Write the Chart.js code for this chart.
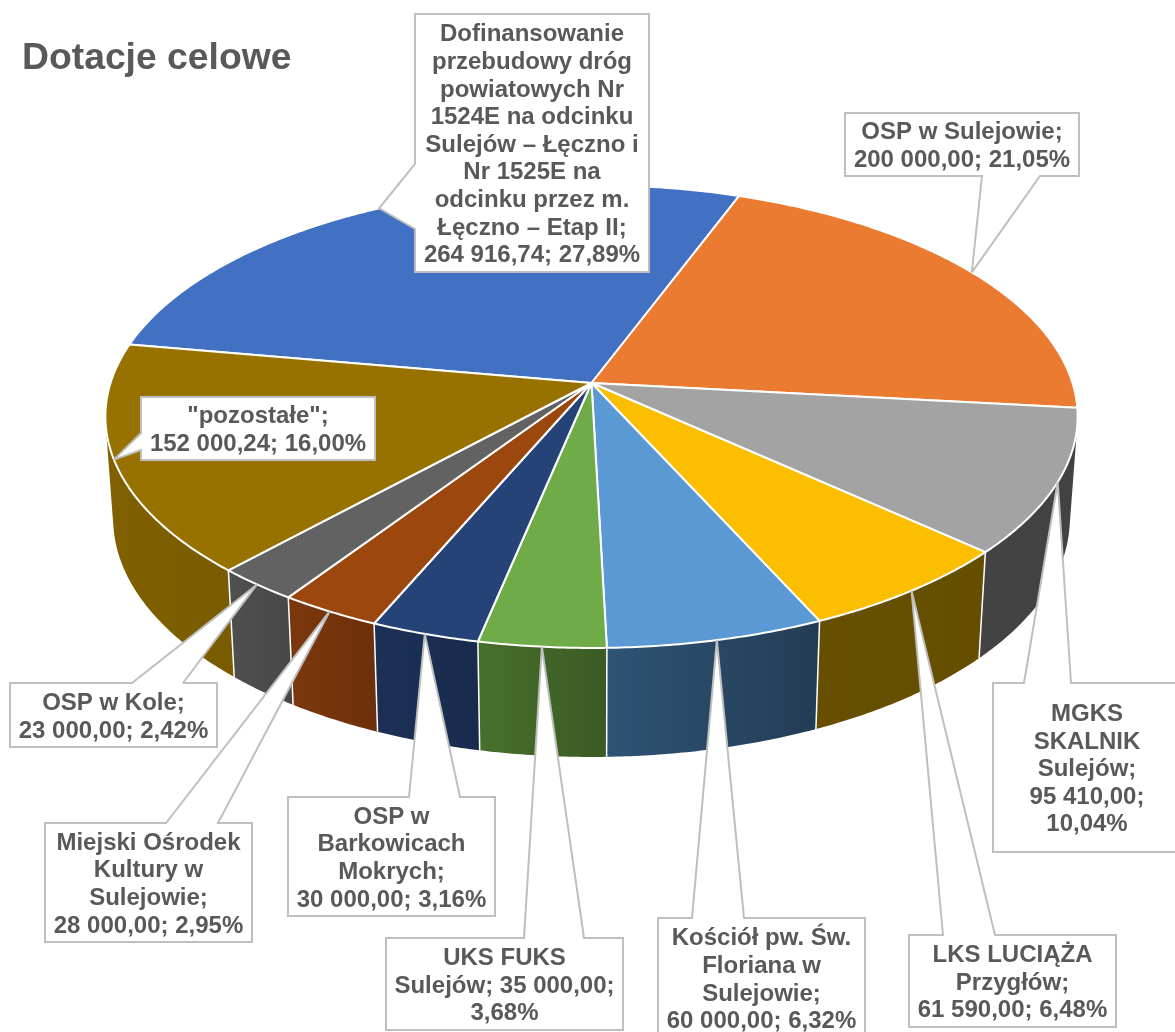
<!DOCTYPE html>
<html lang="pl">
<head>
<meta charset="utf-8">
<title>Dotacje celowe</title>
<style>html,body{margin:0;padding:0;background:#fff}canvas{display:block}</style>
<script src="https://cdn.jsdelivr.net/npm/chart.js@4/dist/chart.umd.min.js"></script>
</head>
<body>
<canvas id="c" width="1175" height="1032"></canvas>
<script>
const titleText = 'Dotacje celowe';
const categories = [
  'Dofinansowanie przebudowy dróg powiatowych Nr 1524E na odcinku Sulejów – Łęczno i Nr 1525E na odcinku przez m. Łęczno – Etap II',
  'OSP w Sulejowie', 'MGKS SKALNIK Sulejów', 'LKS LUCIĄŻA Przygłów',
  'Kościół pw. Św. Floriana w Sulejowie', 'UKS FUKS Sulejów',
  'OSP w Barkowicach Mokrych', 'Miejski Ośrodek Kultury w Sulejowie',
  'OSP w Kole', '"pozostałe"'
];
const values = [264916.74, 200000, 95410, 61590, 60000, 35000, 30000, 28000, 23000, 152000.24];
const topColors = ['#4270C2','#EB7B31','#A3A3A3','#FBBE00','#5A99D3','#6FAB46','#254377','#9C470E','#626262','#977200'];
const wallLeft  = ['#29447A','#8E4B1D','#434343','#665000','#2E5374','#47702B','#1C3057','#7C380D','#505050','#806000'];
const wallRight = ['#29447A','#8E4B1D','#424242','#654E00','#233C55','#3B5A24','#192B4D','#6C300A','#474747','#795B00'];
const labelLines = [
  ['Dofinansowanie','przebudowy dróg','powiatowych Nr','1524E na odcinku','Sulejów – Łęczno i','Nr 1525E na','odcinku przez m.','Łęczno – Etap II;','264 916,74; 27,89%'],
  ['OSP w Sulejowie;','200 000,00; 21,05%'],
  ['MGKS','SKALNIK','Sulejów;','95 410,00;','10,04%'],
  ['LKS LUCIĄŻA','Przygłów;','61 590,00; 6,48%'],
  ['Kościół pw. Św.','Floriana w','Sulejowie;','60 000,00; 6,32%'],
  ['UKS FUKS','Sulejów; 35 000,00;','3,68%'],
  ['OSP w','Barkowicach','Mokrych;','30 000,00; 3,16%'],
  ['Miejski Ośrodek','Kultury w','Sulejowie;','28 000,00; 2,95%'],
  ['OSP w Kole;','23 000,00; 2,42%'],
  ['"pozostałe";','152 000,24; 16,00%']
];
// label box layout: x, y, w, h, side carrying the leader, leader base a, leader base b
const labelBoxes = [
  [415, 14, 234, 258, 'left', 164, 229],
  [845, 113, 234, 63, 'bottom', 982, 1040],
  [993, 683, 188, 169, 'top', 1024, 1071],
  [909, 935, 207, 92, 'top', 943, 995],
  [658, 918, 207, 120, 'top', 692, 744],
  [386, 938, 237, 92, 'top', 524, 584],
  [288, 797, 207, 119, 'top', 409, 460],
  [45, 823, 207, 119, 'top', 166, 218],
  [10, 683, 207, 64, 'top', 132, 183],
  [141, 397, 234, 63, 'left', 433, 450]
];
// projection of the pie disc (perspective view)
const view = { cx: 591.5, cy: 383, a: 481, b: 226.6, k: 0.1447, shrink: 0.984, depth: 109, depthSlope: 0.03, frontY: 648 };

function project(angle) {
  const u = Math.cos(angle), v = Math.sin(angle), d = 1 - view.k * v;
  return { x: view.cx + view.a * u / d, y: view.cy + view.b * v / d };
}
function projectBase(angle) {
  const p = project(angle);
  return { x: view.cx + view.shrink * (p.x - view.cx), y: p.y + view.depth + view.depthSlope * (p.y - view.frontY) };
}
const STEP = Math.PI / 360;
function sampleAngles(s, e) {
  const out = [], n = Math.max(2, Math.ceil((e - s) / STEP));
  for (let i = 0; i <= n; i++) out.push(s + (e - s) * i / n);
  return out;
}
function drawWall(ctx, arc, i) {
  const as = sampleAngles(arc.startAngle, arc.endAngle);
  let minX = Infinity, maxX = -Infinity;
  ctx.beginPath();
  for (let j = 0; j < as.length - 1; j++) {
    const q = [project(as[j]), project(as[j + 1]), projectBase(as[j + 1]), projectBase(as[j])];
    let area = 0;
    q.forEach((p, n) => { const r = q[(n + 1) % 4]; area += p.x * r.y - r.x * p.y; });
    if (area < 0) q.reverse();
    q.forEach((p, n) => { n ? ctx.lineTo(p.x, p.y) : ctx.moveTo(p.x, p.y); minX = Math.min(minX, p.x); maxX = Math.max(maxX, p.x); });
    ctx.closePath();
  }
  const g = ctx.createLinearGradient(minX, 0, maxX, 0);
  g.addColorStop(0, wallLeft[i]);
  g.addColorStop(1, wallRight[i]);
  ctx.fillStyle = g;
  ctx.fill('nonzero');
}
function drawWallSeam(ctx, angle) {
  if (Math.sin(angle) < 0.15) return;
  const p = project(angle), q = projectBase(angle);
  ctx.beginPath();
  ctx.moveTo(p.x, p.y);
  ctx.lineTo(q.x, q.y);
  ctx.strokeStyle = '#FFFFFF';
  ctx.lineWidth = 1.5;
  ctx.stroke();
}
function drawTop(ctx, arc, i) {
  ctx.beginPath();
  ctx.moveTo(view.cx, view.cy);
  sampleAngles(arc.startAngle, arc.endAngle).forEach(t => { const p = project(t); ctx.lineTo(p.x, p.y); });
  ctx.closePath();
  ctx.fillStyle = topColors[i];
  ctx.fill();
  ctx.strokeStyle = '#FFFFFF';
  ctx.lineWidth = 2;
  ctx.lineJoin = 'round';
  ctx.stroke();
}
function drawLabel(ctx, arc, i) {
  const [x, y, w, h, side, a, b] = labelBoxes[i];
  const tip = project((arc.startAngle + arc.endAngle) / 2);
  ctx.beginPath();
  ctx.moveTo(x, y);
  if (side === 'top') { ctx.lineTo(a, y); ctx.lineTo(tip.x, tip.y); ctx.lineTo(b, y); }
  ctx.lineTo(x + w, y);
  ctx.lineTo(x + w, y + h);
  if (side === 'bottom') { ctx.lineTo(b, y + h); ctx.lineTo(tip.x, tip.y); ctx.lineTo(a, y + h); }
  ctx.lineTo(x, y + h);
  if (side === 'left') { ctx.lineTo(x, b); ctx.lineTo(tip.x, tip.y); ctx.lineTo(x, a); }
  ctx.closePath();
  ctx.fillStyle = '#FFFFFF';
  ctx.fill();
  ctx.strokeStyle = '#BFBFBF';
  ctx.lineWidth = 2;
  ctx.lineJoin = 'miter';
  ctx.miterLimit = 2;
  ctx.stroke();
  const lines = labelLines[i], lh = 27.6;
  ctx.fillStyle = '#595959';
  ctx.font = 'bold 24px "Liberation Sans", Arial, sans-serif';
  ctx.textAlign = 'center';
  ctx.textBaseline = 'alphabetic';
  const top = y + h / 2 - lines.length * lh / 2;
  lines.forEach((t, n) => ctx.fillText(t, x + w / 2, top + n * lh + 22.5));
}
const pie3d = {
  id: 'pie3d',
  beforeDatasetsDraw(chart) {
    const ctx = chart.ctx, arcs = chart.getDatasetMeta(0).data;
    ctx.save();
    arcs.forEach((arc, i) => drawWall(ctx, arc, i));
    arcs.forEach(arc => drawWallSeam(ctx, arc.startAngle));
    arcs.forEach((arc, i) => drawTop(ctx, arc, i));
    ctx.restore();
    return false;
  },
  afterDraw(chart) {
    const ctx = chart.ctx, arcs = chart.getDatasetMeta(0).data;
    ctx.save();
    [0, 1, 9, 2, 3, 4, 5, 6, 7, 8].forEach(i => drawLabel(ctx, arcs[i], i));
    ctx.restore();
  }
};
new Chart(document.getElementById('c'), {
  type: 'pie',
  data: { labels: categories, datasets: [{ data: values, backgroundColor: topColors, borderColor: '#FFFFFF' }] },
  options: {
    responsive: false,
    animation: false,
    rotation: -80,
    layout: { padding: { left: 22, top: 36 } },
    plugins: {
      legend: { display: false },
      tooltip: { enabled: false },
      title: { display: true, text: titleText, align: 'start', color: '#595959', padding: 0,
               font: { family: '"Liberation Sans", Arial, sans-serif', size: 37.3, weight: 'bold' } }
    }
  },
  plugins: [pie3d]
});
</script>
</body>
</html>
